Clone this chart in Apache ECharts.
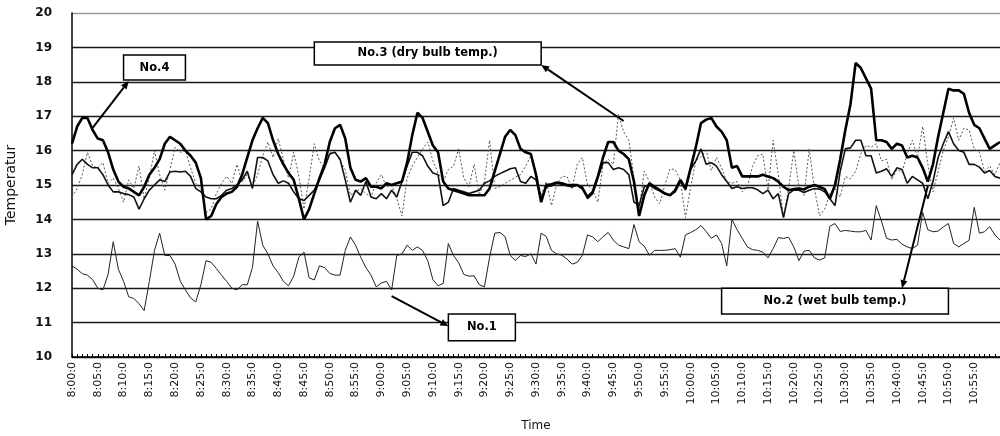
<!DOCTYPE html>
<html>
<head>
<meta charset="utf-8">
<script src="https://cdn.jsdelivr.net/npm/echarts@6/dist/echarts.min.js"></script>
<style>
html,body{margin:0;padding:0;background:#fff;}
#chart{width:1000px;height:436px;}
</style>
</head>
<body>
<div id="chart"></div>
<script>
// categories: one per minute from 8:00 to 11:00
const categories = [];
for (let i = 0; i <= 180; i++) {
  const h = 8 + Math.floor(i / 60), m = i % 60;
  categories.push(h + ':' + (m < 10 ? '0' : '') + m + ':0');
}
const yTicks = [10, 11, 12, 13, 14, 15, 16, 17, 18, 19, 20];

const no1 = [
12.65,12.55,12.42,12.38,12.25,12.0,11.95,12.4,13.35,12.55,
12.2,11.75,11.7,11.55,11.35,12.2,13.1,13.6,12.95,12.95,
12.7,12.2,11.95,11.72,11.6,12.1,12.8,12.75,12.57,12.38,
12.2,12.0,11.95,12.1,12.1,12.6,13.95,13.25,13.0,12.65,
12.45,12.2,12.07,12.35,12.9,13.05,12.3,12.24,12.65,12.6,
12.43,12.38,12.38,13.1,13.49,13.25,12.9,12.6,12.38,12.04,
12.15,12.2,11.95,12.95,13.0,13.25,13.1,13.2,13.1,12.8,
12.25,12.07,12.14,13.3,12.95,12.74,12.4,12.35,12.36,12.1,
12.04,12.9,13.6,13.62,13.5,12.95,12.81,12.95,12.92,13.0,
12.7,13.6,13.5,13.1,13.0,12.96,12.85,12.7,12.75,12.96,
13.55,13.49,13.35,13.5,13.62,13.4,13.25,13.2,13.15,13.85,
13.35,13.22,12.96,13.1,13.1,13.1,13.12,13.15,12.9,13.55,
13.62,13.7,13.82,13.65,13.45,13.55,13.3,12.65,14.0,13.7,
13.45,13.2,13.12,13.1,13.05,12.88,13.15,13.47,13.45,13.48,
13.2,12.8,13.08,13.1,12.88,12.82,12.88,13.8,13.88,13.65,
13.68,13.66,13.64,13.64,13.68,13.4,14.4,13.95,13.45,13.4,
13.42,13.28,13.2,13.15,13.25,14.2,13.7,13.64,13.66,13.78,
13.88,13.3,13.2,13.3,13.39,14.35,13.6,13.64,13.79,13.55,13.4
];
const no2 = [
15.3,15.6,15.75,15.6,15.5,15.5,15.3,15.0,14.8,14.8,
14.75,14.72,14.65,14.3,14.6,14.85,15.0,15.15,15.1,15.38,
15.4,15.38,15.4,15.25,14.9,14.8,14.65,14.6,14.6,14.7,
14.85,14.9,15.0,15.15,15.4,14.9,15.8,15.8,15.7,15.3,
15.05,15.12,15.05,14.8,14.6,14.55,14.7,14.85,15.15,15.5,
15.9,15.95,15.75,15.15,14.5,14.85,14.7,15.1,14.65,14.6,
14.75,14.6,14.85,14.65,15.1,15.55,15.95,15.95,15.85,15.55,
15.35,15.3,14.4,14.5,14.9,14.85,14.8,14.75,14.8,14.85,
15.05,15.12,15.25,15.33,15.4,15.47,15.5,15.1,15.05,15.25,
15.15,14.6,14.95,14.97,15.05,15.02,14.98,14.94,15.0,14.95,
14.6,14.75,15.2,15.65,15.65,15.45,15.5,15.45,15.3,14.5,
14.4,14.95,15.0,14.9,14.83,14.75,14.7,14.8,15.1,14.85,
15.45,15.7,16.05,15.6,15.65,15.55,15.3,15.1,14.9,14.95,
14.9,14.92,14.92,14.86,14.75,14.85,14.6,14.75,14.05,14.75,
14.85,14.85,14.78,14.85,14.9,14.88,14.8,14.6,14.4,15.4,
16.05,16.08,16.3,16.3,15.85,15.85,15.35,15.4,15.47,15.25,
15.5,15.45,15.05,15.25,15.15,15.05,14.6,15.1,15.8,16.2,
16.55,16.2,16.0,15.95,15.6,15.6,15.52,15.35,15.42,15.25,15.2
];
const no3 = [
14.65,14.9,15.3,15.95,15.55,15.5,15.65,15.05,15.2,14.9,
14.5,15.15,14.9,15.55,14.6,15.2,16.0,15.3,14.85,15.45,
16.1,15.95,16.0,15.5,15.05,14.9,14.2,14.3,14.75,15.05,
15.25,15.05,15.6,15.1,15.3,14.95,15.3,15.85,16.25,15.8,
16.35,15.75,15.2,15.95,15.25,14.3,15.2,16.2,15.7,15.5,
15.95,15.95,15.7,15.45,14.7,14.8,14.9,14.75,14.65,15.05,
15.3,14.95,15.0,14.6,14.1,15.2,15.55,15.8,16.05,16.25,
15.7,15.35,15.1,15.45,15.55,16.05,15.2,14.95,15.6,14.7,
15.1,16.3,14.9,14.95,15.05,15.13,15.23,15.3,15.55,15.85,
15.4,14.7,15.1,14.4,15.0,15.25,15.25,14.9,15.6,15.8,
15.0,14.85,14.5,15.6,15.75,15.6,17.05,16.55,16.3,15.2,
14.3,15.4,15.1,14.65,14.45,15.0,15.47,15.45,15.15,14.05,
14.95,15.7,15.82,16.0,15.42,15.8,15.5,15.1,15.05,15.1,
14.8,14.95,15.55,15.85,15.9,14.85,16.3,15.3,14.05,14.9,
16.0,14.95,14.7,16.05,14.9,14.1,14.3,14.75,14.9,14.65,
15.25,15.18,15.4,15.9,16.15,16.1,16.2,15.7,15.75,15.15,
15.45,15.38,15.9,16.3,15.8,16.7,15.6,14.8,15.4,16.0,
16.4,16.95,16.3,16.65,16.6,16.05,15.95,15.4,15.55,15.3,15.65
];
const no4 = [
16.2,16.7,16.95,16.95,16.6,16.35,16.3,15.95,15.45,15.1,
14.95,14.9,14.8,14.7,14.95,15.3,15.5,15.75,16.2,16.4,
16.3,16.2,16.0,15.85,15.65,15.2,14.0,14.1,14.45,14.65,
14.75,14.8,14.95,15.3,15.8,16.3,16.65,16.95,16.8,16.3,
15.9,15.6,15.35,15.15,14.6,14.0,14.3,14.75,15.2,15.6,
16.25,16.65,16.75,16.35,15.5,15.15,15.1,15.2,14.95,14.95,
14.9,15.05,15.0,15.05,15.1,15.65,16.45,17.1,16.95,16.55,
16.15,15.95,15.1,14.9,14.85,14.8,14.75,14.7,14.7,14.7,
14.7,14.9,15.4,15.9,16.4,16.6,16.45,16.05,15.95,15.9,
15.3,14.5,15.0,15.02,15.07,15.05,15.0,15.0,15.0,14.9,
14.65,14.8,15.25,15.8,16.25,16.25,16.0,15.9,15.75,15.1,
14.1,14.7,15.05,14.95,14.85,14.75,14.7,14.85,15.15,14.9,
15.5,16.1,16.8,16.9,16.95,16.7,16.55,16.3,15.5,15.55,
15.25,15.25,15.25,15.25,15.3,15.25,15.2,15.1,14.95,14.85,
14.88,14.9,14.87,14.95,15.0,14.95,14.88,14.6,15.0,15.75,
16.6,17.35,18.55,18.4,18.1,17.8,16.3,16.3,16.25,16.05,
16.2,16.15,15.8,15.85,15.8,15.5,15.1,15.6,16.4,17.1,
17.8,17.75,17.75,17.65,17.1,16.75,16.65,16.35,16.05,16.15,16.25
];

// callouts, in data coordinates [minute index, temperature]
const callouts = [
  { text: 'No.4', box: [[10.3, 18.78], [22.3, 18.05]], from: [3.5, 16.66], to: [10.67, 18.02] },
  { text: 'No.3 (dry bulb temp.)', box: [[46.7, 19.16], [91.2, 18.49]], from: [106.5, 16.86], to: [91.35, 18.49] },
  { text: 'No.1', box: [[73.3, 11.25], [85.7, 10.47]], from: [61.5, 11.77], to: [73.1, 10.9] },
  { text: 'No.2 (wet bulb temp.)', box: [[126.1, 12.0], [169.9, 11.25]], from: [165.6, 14.97], to: [160.6, 12.0] }
];

const chart = echarts.init(document.getElementById('chart'), null, { renderer: 'canvas' });
const gridColors = yTicks.map((v, i) => i === yTicks.length - 1 ? '#9a9a9a' : '#1a1a1a');
const option = {
  backgroundColor: '#ffffff',
  animation: false,
  grid: { left: 72, right: 0, top: 13, bottom: 79, containLabel: false, outerBoundsMode: 'none' },
  xAxis: {
    type: 'category',
    data: categories,
    boundaryGap: false,
    name: 'Time',
    nameLocation: 'middle',
    nameGap: 63,
    nameTextStyle: { fontFamily: 'DejaVu Sans', fontSize: 12, color: '#111' },
    axisLine: { show: true, lineStyle: { color: '#000', width: 1.5 } },
    axisTick: { show: true, inside: true, length: 3, interval: 0, lineStyle: { color: '#000', width: 1 } },
    axisLabel: {
      rotate: 90,
      margin: 5,
      interval: function (i) { return i % 5 === 0 && i < 180; },
      fontFamily: 'DejaVu Sans',
      fontSize: 11,
      color: '#111'
    },
    splitLine: { show: false }
  },
  yAxis: {
    type: 'value',
    min: 10,
    max: 20,
    interval: 1,
    name: 'Temperatur',
    nameLocation: 'middle',
    nameRotate: 90,
    nameGap: 54,
    nameTextStyle: { fontFamily: 'DejaVu Sans', fontSize: 14, color: '#111' },
    axisLine: { show: true, lineStyle: { color: '#000', width: 1.5 } },
    axisTick: { show: false },
    axisLabel: {
      margin: 20,
      fontFamily: 'DejaVu Sans',
      fontWeight: 'bold',
      fontSize: 12,
      color: '#111'
    },
    splitLine: { show: true, lineStyle: { color: gridColors, width: 1.3 } }
  },
  series: [
    { name: 'No.1', type: 'line', data: no1, symbol: 'none', z: 2,
      lineStyle: { color: '#222', width: 1 } },
    { name: 'No.3 (dry bulb temp.)', type: 'line', data: no3, symbol: 'none', z: 3,
      lineStyle: { color: '#555', width: 1, type: [2, 2] } },
    { name: 'No.2 (wet bulb temp.)', type: 'line', data: no2, symbol: 'none', z: 4,
      lineStyle: { color: '#111', width: 1.6 } },
    { name: 'No.4', type: 'line', data: no4, symbol: 'none', z: 5,
      lineStyle: { color: '#000', width: 2.6 } }
  ]
};
chart.setOption(option);

function px(p) { return chart.convertToPixel({ gridIndex: 0 }, p); }
const graphics = [];
callouts.forEach(function (c) {
  const a = px(c.box[0]), b = px(c.box[1]);
  const x = Math.min(a[0], b[0]), y = Math.min(a[1], b[1]);
  const w = Math.abs(b[0] - a[0]), h = Math.abs(b[1] - a[1]);
  const f = px(c.from), t = px(c.to);
  const dx = t[0] - f[0], dy = t[1] - f[1];
  const len = Math.sqrt(dx * dx + dy * dy);
  const ux = dx / len, uy = dy / len;
  const hl = 8, hw = 3.5;
  const bx = t[0] - ux * hl, by = t[1] - uy * hl;
  graphics.push({
    type: 'line', z: 20,
    shape: { x1: f[0], y1: f[1], x2: bx, y2: by },
    style: { stroke: '#000', lineWidth: 2 }
  });
  graphics.push({
    type: 'polygon', z: 20,
    shape: { points: [[t[0], t[1]], [bx - uy * hw, by + ux * hw], [bx + uy * hw, by - ux * hw]] },
    style: { fill: '#000' }
  });
  graphics.push({
    type: 'rect', z: 21,
    shape: { x: x, y: y, width: w, height: h },
    style: { fill: '#fff', stroke: '#000', lineWidth: 1.5 }
  });
  graphics.push({
    type: 'text', z: 22,
    x: x + w / 2, y: y + h / 2,
    style: { text: c.text, fontFamily: 'DejaVu Sans', fontWeight: 'bold', fontSize: 11.5,
      fill: '#000', align: 'center', verticalAlign: 'middle' }
  });
});
chart.setOption({ graphic: graphics });
</script>
</body>
</html>
